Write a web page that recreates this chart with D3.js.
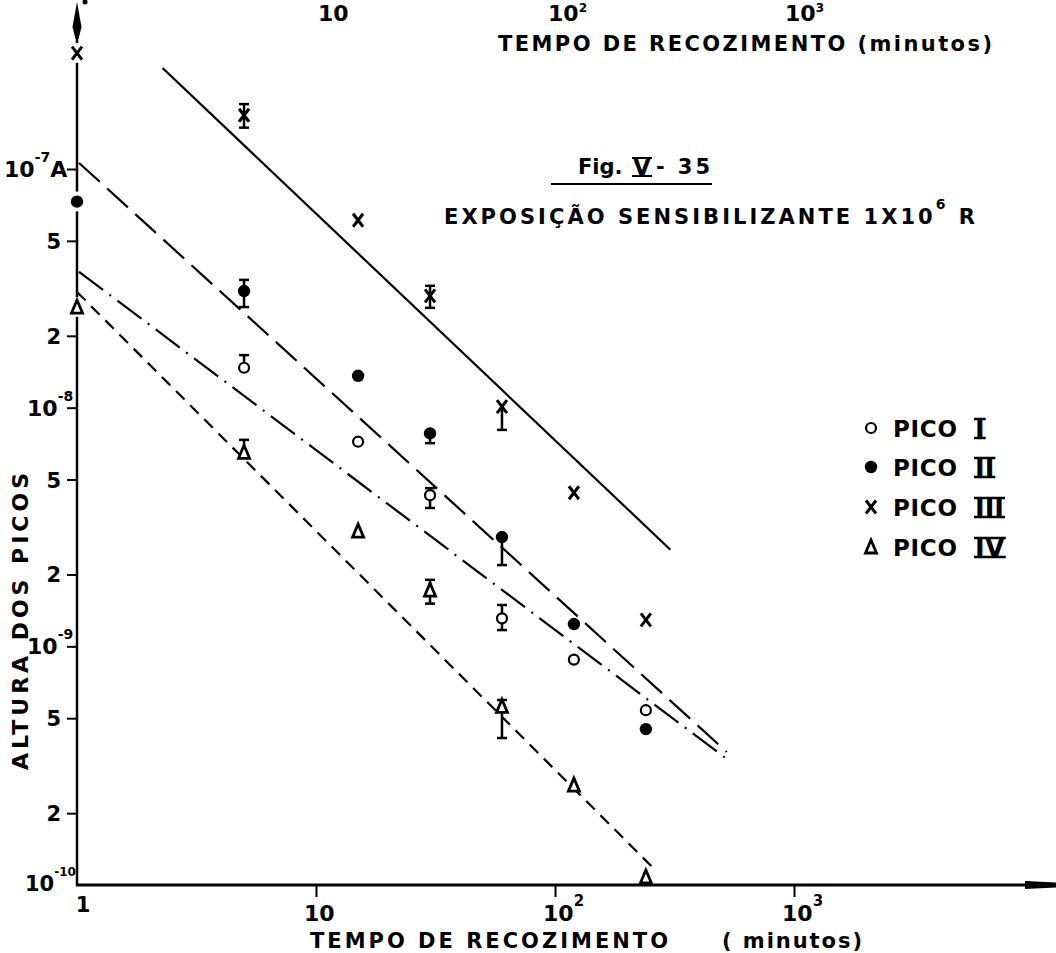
<!DOCTYPE html>
<html><head><meta charset="utf-8">
<script src="https://cdn.jsdelivr.net/npm/d3@7"></script>
<style>
body{margin:0;background:#fff}
svg{display:block}
text{font-family:"DejaVu Sans",sans-serif;font-weight:bold;fill:#000}
</style></head>
<body><svg id="c" width="1056" height="953"></svg>
<script>
// ---------- DATA ----------
const times = [1, 5, 15, 30, 60, 120, 240];           // minutos
const picoI   = [null, 1.47e-8, 7.2e-9, 4.3e-9, 1.31e-9, 8.8e-10, 5.4e-10];
const picoII  = [7.3e-8, 3.08e-8, 1.36e-8, 7.8e-9, 2.87e-9, 1.24e-9, 4.5e-10];
const picoIII = [3.06e-7, 1.68e-7, 6.1e-8, 2.94e-8, 1.01e-8, 4.4e-9, 1.29e-9];
const picoIV  = [2.64e-8, 6.5e-9, 3.04e-9, 1.72e-9, 5.6e-10, 2.62e-10, 1.08e-10];
// error bars [low, high] (null = none)
const errI   = [null, [1.47e-8, 1.66e-8], null, [3.8e-9, 4.6e-9], [1.17e-9, 1.49e-9], null, null];
const errII  = [null, [2.64e-8, 3.43e-8], null, [7.1e-9, 7.8e-9], [2.19e-9, 2.87e-9], null, null];
const errIII = [null, [1.49e-7, 1.87e-7], null, [2.62e-8, 3.24e-8], [8.07e-9, 1.01e-8], null, null];
const errIV  = [null, [6.5e-9, 7.33e-9], null, [1.51e-9, 1.9e-9], [4.13e-10, 5.96e-10], null, null];
// fitted straight lines (endpoints in data units)
const fitI_t   = [1.02, 543], fitI_v   = [3.71e-8, 3.28e-10];
const fitII_t  = [1.02, 523], fitII_v  = [1.06e-7, 3.61e-10];
const fitIII_t = [2.28, 304], fitIII_v = [2.65e-7, 2.54e-9];
const fitIV_t  = [1.0, 253],  fitIV_v  = [3.05e-8, 1.20e-10];
// axis ticks / labels
const xMajor = [10, 100, 1000];
const xExp = ["", "2", "3"];
const yMinor = [2e-10, 5e-10, 2e-9, 5e-9, 2e-8, 5e-8];
const yMinorLabels = ["2", "5", "2", "5", "2", "5"];
const yMajor = [1e-9, 1e-8, 1e-7];
const yMajorExp = ["-9", "-8", "-7"];
const legendNames = ["PICO", "PICO", "PICO", "PICO"];
const legendNum = ["I", "II", "III", "IV"];

// ---------- SCALES ----------
const svg = d3.select("#c");
const x = d3.scaleLog().domain([1, 1000]).range([77, 794]);
const y = d3.scaleLog().domain([1e-10, 1e-7]).range([885, 169]);
const X0 = x(1), Y0 = y(1e-10);

// ---------- AXES ----------
const gy = svg.append("g").attr("transform", `translate(${X0},0)`)
  .call(d3.axisLeft(y).tickValues(yMinor.concat(yMajor)).tickSize(10).tickFormat(""));
gy.select(".domain").remove();
gy.selectAll(".tick line").attr("stroke", "#000").attr("stroke-width", 2);

const gx = svg.append("g").attr("transform", `translate(0,${Y0})`)
  .call(d3.axisBottom(x).tickValues(xMajor).tickSize(12).tickFormat(""));
gx.select(".domain").remove();
gx.selectAll(".tick line").attr("stroke", "#000").attr("stroke-width", 2);

svg.append("line").attr("x1", X0).attr("y1", Y0 + 1).attr("x2", X0).attr("y2", 38)
  .attr("stroke", "#000").attr("stroke-width", 2.5);
svg.append("polygon").attr("points", `${X0},2 ${X0+4.5},27 ${X0+1.5},39 ${X0-1.5},39 ${X0-4.5},27`).attr("fill", "#000");
svg.append("line").attr("x1", X0 - 1).attr("y1", Y0).attr("x2", 1030).attr("y2", Y0)
  .attr("stroke", "#000").attr("stroke-width", 3);
svg.append("polygon").attr("points", `1025,${Y0-4} 1056,${Y0-2.5} 1056,${Y0+2.5} 1025,${Y0+4}`).attr("fill", "#000");

// y tick labels
svg.selectAll(".ymin").data(yMinor).join("text").attr("class", "ymin")
  .attr("x", X0 - 16).attr("y", d => y(d) + 8).attr("text-anchor", "end")
  .attr("font-size", 21).text((d, i) => yMinorLabels[i]);
function pow10(px, py, e, size, supSize) {
  const t = svg.append("text").attr("x", px).attr("y", py).attr("font-size", size);
  t.append("tspan").text("10");
  if (e) t.append("tspan").attr("dy", -15).attr("font-size", supSize).text(e);
  return t;
}
yMajor.forEach((v, i) => {
  const yy = y(v);
  if (i === 2) {
    const t = pow10(4, yy + 8, yMajorExp[i], 22, 14);
    t.append("tspan").attr("dy", 15).text("A");
  } else {
    pow10(X0 - 50, yy + 8, yMajorExp[i], 22, 14);
  }
});
pow10(X0 - 52, Y0 + 6, "-10", 21, 12);

// x tick labels
svg.append("text").attr("x", x(1) + 6).attr("y", Y0 + 27).attr("text-anchor", "middle").attr("font-size", 21).text("1");
xMajor.forEach((v, i) => { pow10(x(v) - 12, Y0 + 36, xExp[i], 22, 15); });

// axis titles
svg.append("text").attr("x", 310).attr("y", 948).attr("font-size", 21)
  .attr("textLength", 358).attr("lengthAdjust", "spacing").text("TEMPO DE RECOZIMENTO");
svg.append("text").attr("x", 722).attr("y", 948).attr("font-size", 21)
  .attr("textLength", 140).attr("lengthAdjust", "spacing").text("( minutos)");
svg.append("text").attr("transform", "translate(28,770) rotate(-90)").attr("font-size", 22)
  .attr("textLength", 297).attr("lengthAdjust", "spacing").text("ALTURA  DOS  PICOS");

// remnant of the previous figure at the top
[[318, ""], [548, "2"], [785, "3"]].forEach(([px, e]) => {
  const t = svg.append("text").attr("x", px).attr("y", 21).attr("font-size", 22);
  t.append("tspan").text("10");
  if (e) t.append("tspan").attr("dy", -9).attr("font-size", 12).text(e);
});
svg.append("text").attr("x", 498).attr("y", 51).attr("font-size", 21)
  .attr("textLength", 494).attr("lengthAdjust", "spacing").text("TEMPO  DE  RECOZIMENTO  (minutos)");

// caption
svg.append("text").attr("x", 578).attr("y", 174).attr("font-size", 21).text("Fig.");
svg.append("text").attr("x", 633).attr("y", 175).attr("font-family", "Liberation Serif").attr("font-size", 23).text("V");
svg.append("line").attr("x1", 632).attr("x2", 652).attr("y1", 158).attr("y2", 158).attr("stroke", "#000").attr("stroke-width", 2);
svg.append("line").attr("x1", 632).attr("x2", 652).attr("y1", 176).attr("y2", 176).attr("stroke", "#000").attr("stroke-width", 2);
svg.append("text").attr("x", 656).attr("y", 174).attr("font-size", 21)
  .attr("textLength", 54).attr("lengthAdjust", "spacing").text("- 35");
svg.append("line").attr("x1", 551).attr("x2", 712).attr("y1", 184).attr("y2", 184).attr("stroke", "#000").attr("stroke-width", 2.2);
const ex = svg.append("text").attr("x", 444).attr("y", 224).attr("font-size", 21);
ex.append("tspan").text("EXPOSIÇÃO  SENSIBILIZANTE  1X10");
ex.append("tspan").attr("dy", -15).attr("font-size", 14).text("6");
ex.append("tspan").attr("dy", 15).text(" R");
ex.attr("textLength", 531).attr("lengthAdjust", "spacing");

// ---------- FIT LINES ----------
const line = d3.line().x(d => x(d[0])).y(d => y(d[1]));
const fits = [
  [fitIII_t, fitIII_v, null],
  [fitII_t, fitII_v, "28,10"],
  [fitI_t, fitI_v, "30,8,2,8"],
  [fitIV_t, fitIV_v, "12,8"]
];
fits.forEach(([ts, vs, dash]) => {
  svg.append("path").attr("d", line(ts.map((t, i) => [t, vs[i]])))
    .attr("fill", "none").attr("stroke", "#000").attr("stroke-width", 2.2)
    .attr("stroke-dasharray", dash);
});

// ---------- ERROR BARS ----------
function errBars(vals, errs) {
  errs.forEach((e, i) => {
    if (!e) return;
    const cx = x(times[i]);
    svg.append("line").attr("x1", cx).attr("x2", cx).attr("y1", y(e[0])).attr("y2", y(e[1]))
      .attr("stroke", "#000").attr("stroke-width", 2.5);
    e.forEach(ev => {
      if (Math.abs(ev - vals[i]) / vals[i] < 0.01) return;
      svg.append("line").attr("x1", cx - 5).attr("x2", cx + 5).attr("y1", y(ev)).attr("y2", y(ev))
        .attr("stroke", "#000").attr("stroke-width", 2.5);
    });
  });
}
errBars(picoI, errI); errBars(picoII, errII); errBars(picoIII, errIII); errBars(picoIV, errIV);

// ---------- MARKERS ----------
function halo(cx, cy) {
  svg.append("circle").attr("cx", cx).attr("cy", cy).attr("r", 10).attr("fill", "#fff");
}
function mOpen(g, cx, cy) {
  g.append("circle").attr("cx", cx).attr("cy", cy).attr("r", 5).attr("fill", "#fff").attr("stroke", "#000").attr("stroke-width", 2.2);
}
function mFill(g, cx, cy) {
  g.append("circle").attr("cx", cx).attr("cy", cy).attr("r", 6.2).attr("fill", "#000");
}
function mCross(g, cx, cy) {
  g.append("path").attr("d", `M${cx-5},${cy-6.5}L${cx+5},${cy+6.5}M${cx+5},${cy-6.5}L${cx-5},${cy+6.5}`)
    .attr("stroke", "#000").attr("stroke-width", 3).attr("fill", "none");
}
function mTri(g, cx, cy) {
  g.append("path").attr("d", `M${cx},${cy-7}L${cx+5.5},${cy+6}L${cx-5.5},${cy+6}Z`)
    .attr("stroke", "#000").attr("stroke-width", 2.8).attr("fill", "#fff").attr("stroke-linejoin", "miter");
}
const series = [[picoI, mOpen], [picoII, mFill], [picoIII, mCross], [picoIV, mTri]];
series.forEach(([vals, fn]) => {
  vals.forEach((v, i) => {
    if (v == null) return;
    const cx = x(times[i]), cy = y(v);
    if (i === 0) halo(cx, cy);
    fn(svg, cx, cy);
  });
});

// ---------- LEGEND ----------
const legY = [428, 467, 507, 547];
series.forEach(([vals, fn], i) => {
  fn(svg, 871, legY[i]);
  svg.append("text").attr("x", 893).attr("y", legY[i] + 9).attr("font-size", 23)
    .attr("textLength", 64).attr("lengthAdjust", "spacing").text(legendNames[i]);
  const nt = svg.append("text").attr("x", 975).attr("y", legY[i] + 10)
    .attr("font-family", "Liberation Serif").attr("font-size", 26).text(legendNum[i]);
  const w = nt.node().getComputedTextLength();
  [-9, 10].forEach(dy => {
    svg.append("line").attr("x1", 974).attr("x2", 976 + w).attr("y1", legY[i] + dy).attr("y2", legY[i] + dy)
      .attr("stroke", "#000").attr("stroke-width", 2.5);
  });
});

svg.append("circle").attr("cx", 85).attr("cy", 2).attr("r", 2.5).attr("fill", "#000");
</script></body></html>
